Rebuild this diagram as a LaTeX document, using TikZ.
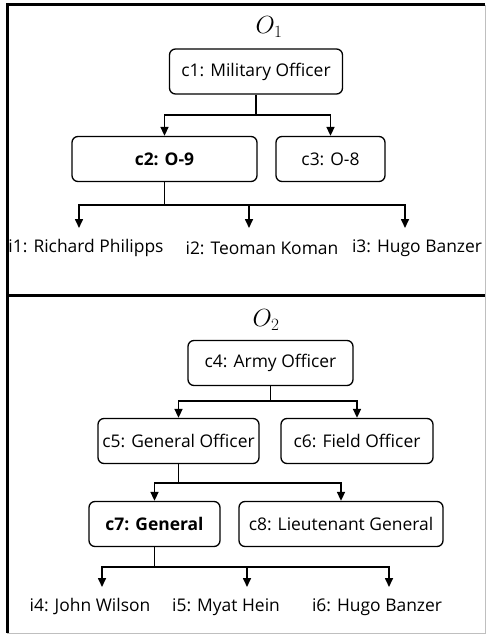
\documentclass[tikz,border=0pt]{standalone}
\usepackage{fontspec}
\setmainfont{Open Sans}
\usetikzlibrary{arrows.meta}

\begin{document}
\begin{tikzpicture}[x=1bp,y=-1bp,>={Triangle[width=8bp,length=9bp]},
      box/.style={draw,rounded corners=6bp,line width=1.3bp,minimum height=45bp,inner sep=1bp,
        font=\fontsize{17.5}{20}\selectfont},
      leaf/.style={font=\fontsize{17.5}{20}\selectfont},
      link/.style={line width=1.6bp}]
      \useasboundingbox (0,0) rectangle (486,635);
      % frame
      \draw[black!25,line width=1bp] (485,5) -- (485,633) -- (7,633);
      \draw[line width=3bp] (485,5) -- (7,5) -- (7,633);
      \draw[line width=3bp] (7,295) -- (485,295);

      % O_1
      \node (o1) at (269,27) {\fontsize{23}{26}\selectfont$O_1$};
      \node[box,minimum width=173bp] (c1) at (256,71.5) {c1: Military Officer};
      \node[box,minimum width=185bp] (c2) at (164.5,159) {\bfseries c2: O-9};
      \node[box,minimum width=109bp] (c3) at (330.5,159) {c3: O-8};
      \coordinate (t1) at (79,228);
      \coordinate (t2) at (249,228);
      \coordinate (t3) at (405,228);
      \node[leaf] (i1) at (86,248) {i1: Richard Philipps};
      \node[leaf] (i2) at (262,248) {i2: Teoman Koman};
      \node[leaf] (i3) at (417,248) {i3: Hugo Banzer};
      \draw[link] (c1.south) -- (c1.south |- 0,115) coordinate (j1);
      \draw[link,->] (j1) -| (c2.north);
      \draw[link,->] (j1) -| (c3.north);
      \draw[link] (c2.south) -- (c2.south |- 0,205) coordinate (j2);
      \foreach \t in {t1,t2,t3}
        \draw[link,->] (j2) -| (\t);

      % O_2
      \node (o2) at (266,320) {\fontsize{23}{26}\selectfont$O_2$};
      \node[box,minimum width=165bp] (c4) at (270.5,363) {c4: Army Officer};
      \node[box,minimum width=161bp] (c5) at (178.5,441) {c5: General Officer};
      \node[box,minimum width=152bp] (c6) at (357,441) {c6: Field Officer};
      \node[box,minimum width=131bp] (c7) at (154.5,524) {\bfseries c7: General};
      \node[box,minimum width=204bp] (c8) at (341,524) {c8: Lieutenant General};
      \coordinate (t4) at (102,587);
      \coordinate (t5) at (247,587);
      \coordinate (t6) at (389,587);
      \node[leaf] (i4) at (90,607) {i4: John Wilson};
      \node[leaf] (i5) at (226,607) {i5: Myat Hein};
      \node[leaf] (i6) at (377,607) {i6: Hugo Banzer};
      \draw[link] (c4.south) -- (c4.south |- 0,401) coordinate (j4);
      \draw[link,->] (j4) -| (c5.north);
      \draw[link,->] (j4) -| (c6.north);
      \draw[link] (c5.south) -- (c5.south |- 0,483) coordinate (j5);
      \draw[link,->] (j5) -| (c7.north);
      \draw[link,->] (j5) -| (c8.north);
      \draw[link] (c7.south) -- (c7.south |- 0,567) coordinate (j7);
      \foreach \t in {t4,t5,t6}
        \draw[link,->] (j7) -| (\t);
\end{tikzpicture}
\end{document}
